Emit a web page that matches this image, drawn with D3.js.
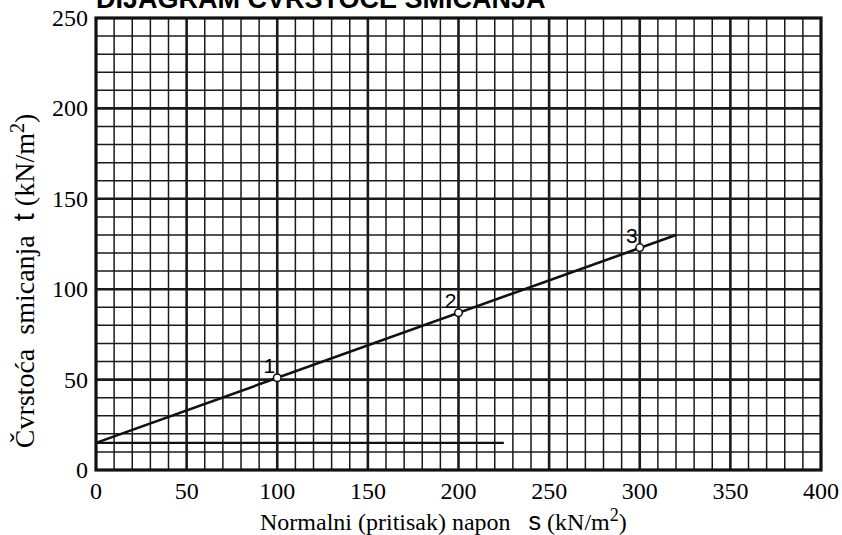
<!DOCTYPE html>
<html>
<head>
<meta charset="utf-8">
<script src="https://cdn.jsdelivr.net/npm/d3@7"></script>
<style>
body { margin: 0; background: #fff; }
svg { display: block; }
.serif { font-family: 'Liberation Serif', 'Times New Roman', Tinos, 'DejaVu Serif', serif; }
.sans { font-family: 'Liberation Sans', Arial, Helvetica, sans-serif; }
</style>
</head>
<body>
<svg id="chart" width="842" height="535"></svg>
<script>
// data
var xTicks = [0, 50, 100, 150, 200, 250, 300, 350, 400];
var yTicks = [0, 50, 100, 150, 200, 250];
var sampleNames = ["1", "2", "3"];
var sigmaVals = [100, 200, 300];
var tauVals = [51, 87, 123];
var envelopeX = [0, 320];
var envelopeY = [15, 130];
var cohesionX = [0, 225];
var cohesionY = [15, 15];

var svg = d3.select('#chart');
var x = d3.scaleLinear().domain([0, 400]).range([96, 821]);
var y = d3.scaleLinear().domain([0, 250]).range([470, 18]);

// fine grid every 10, bold every 50
var grid = svg.append('g');
d3.range(10, 400, 10).forEach(function (v) {
    grid.append('line')
        .attr('x1', x(v)).attr('x2', x(v))
        .attr('y1', y(0)).attr('y2', y(250))
        .attr('stroke', '#1a1a1a')
        .attr('stroke-width', v % 50 == 0 ? 2.6 : 1.5);
});
d3.range(10, 250, 10).forEach(function (v) {
    grid.append('line')
        .attr('x1', x(0)).attr('x2', x(400))
        .attr('y1', y(v)).attr('y2', y(v))
        .attr('stroke', '#1a1a1a')
        .attr('stroke-width', v % 50 == 0 ? 2.6 : 1.5);
});
svg.append('rect')
    .attr('x', x(0)).attr('y', y(250))
    .attr('width', x(400) - x(0)).attr('height', y(0) - y(250))
    .attr('fill', 'none').attr('stroke', '#111').attr('stroke-width', 3.2);

// tick labels
svg.append('g').selectAll('text').data(yTicks).enter().append('text')
    .attr('class', 'serif')
    .attr('x', 88).attr('y', function (d) { return y(d) + 8; })
    .attr('text-anchor', 'end')
    .style('font-size', '24px')
    .text(function (d) { return d; });
svg.append('g').selectAll('text').data(xTicks).enter().append('text')
    .attr('class', 'serif')
    .attr('x', function (d) { return x(d); }).attr('y', 499)
    .attr('text-anchor', 'middle')
    .style('font-size', '24px')
    .text(function (d) { return d; });

// lines
var line = d3.line().x(function (d) { return x(d[0]); }).y(function (d) { return y(d[1]); });
svg.append('path')
    .attr('d', line(d3.zip(cohesionX, cohesionY)))
    .attr('fill', 'none').attr('stroke', '#111').attr('stroke-width', 2.4);
svg.append('path')
    .attr('d', line(d3.zip(envelopeX, envelopeY)))
    .attr('fill', 'none').attr('stroke', '#111').attr('stroke-width', 2.6);

// test points
var pts = svg.append('g').selectAll('g').data(sampleNames).enter().append('g');
pts.append('circle')
    .attr('cx', function (d, i) { return x(sigmaVals[i]); })
    .attr('cy', function (d, i) { return y(tauVals[i]); })
    .attr('r', 3.8)
    .attr('fill', '#fff').attr('stroke', '#111').attr('stroke-width', 1.5);
pts.append('text')
    .attr('class', 'sans')
    .attr('x', function (d, i) { return x(sigmaVals[i]) - 8; })
    .attr('y', function (d, i) { return y(tauVals[i]) - 5; })
    .attr('text-anchor', 'middle')
    .style('font-size', '21px')
    .text(function (d) { return d; });

// title (mostly cut off at the top, as in the original)
svg.append('text')
    .attr('class', 'sans')
    .attr('x', 96).attr('y', 8)
    .style('font-weight', 'bold')
    .style('font-size', '27px')
    .text('DIJAGRAM ČVRSTOĆE SMICANJA');

// axis titles
var xt = svg.append('text')
    .attr('class', 'serif')
    .attr('x', 260).attr('y', 530)
    .style('white-space', 'pre')
    .style('font-size', '24px');
xt.append('tspan').text('Normalni (pritisak) napon   ');
xt.append('tspan').attr('class', 'sans').style('font-size', '25px').text('s');
xt.append('tspan').text(' (kN/m');
xt.append('tspan').attr('dy', -9).style('font-size', '18px').text('2');
xt.append('tspan').attr('dy', 9).text(')');

var yt = svg.append('text')
    .attr('class', 'serif')
    .attr('transform', 'translate(34,281) rotate(-90)')
    .attr('text-anchor', 'middle')
    .style('white-space', 'pre')
    .style('font-size', '28px');
yt.append('tspan').text('Čvrstoća  smicanja  ');
yt.append('tspan').attr('class', 'sans').style('font-size', '29px').text('t');
yt.append('tspan').text(' (kN/m');
yt.append('tspan').attr('dy', -10).style('font-size', '20px').text('2');
yt.append('tspan').attr('dy', 10).text(')');
</script>
</body>
</html>
